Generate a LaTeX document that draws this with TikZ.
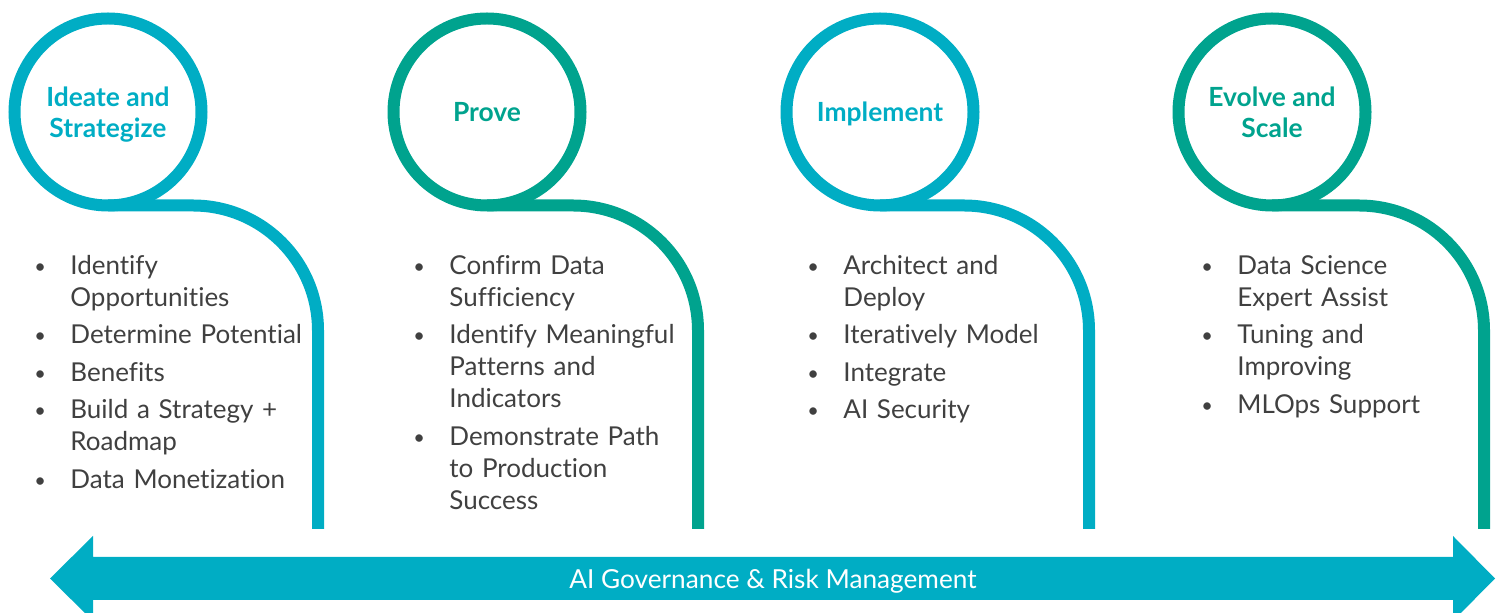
\documentclass[tikz,border=0pt]{standalone}
\usepackage{fontspec}
\setmainfont{Lato}[Ligatures=NoCommon]
\usepackage{enumitem}
\setlist[itemize]{label=\raisebox{0.6pt}{\fontsize{10}{10}\selectfont\textbullet},
  leftmargin=18pt,labelsep=0pt,labelwidth=18pt,itemindent=0pt,align=left,
  topsep=0pt,partopsep=0pt,parsep=0pt,itemsep=2.75pt}

\definecolor{stageblue}{RGB}{0,173,196}
\definecolor{stagegreen}{RGB}{0,163,142}
\definecolor{itemgray}{RGB}{64,64,64}

\begin{document}
\begin{tikzpicture}[x=0.5pt,y=-0.5pt,
    ring/.style={circle,draw,line width=6pt,minimum size=93.5pt,inner sep=0pt,outer sep=0pt,
      align=center,text depth=0pt,font=\fontsize{13.2}{15.5}\selectfont\bfseries},
    tail/.style={line width=6pt,rounded corners=62.5pt},
    items/.style={anchor=north west,inner sep=0pt,text width=150pt,text=itemgray,
      font=\fontsize{13}{16}\selectfont}]

  \useasboundingbox (0,0) rectangle (1500,613);
  \clip (0,0) rectangle (1500,613);

  % stage circles
  \node[ring,draw=stageblue,text=stageblue] (ideate) at (108,112) {Ideate and\\Strategize};
  \node[ring,draw=stagegreen,text=stagegreen] (prove) at (487,112) {Prove};
  \node[ring,draw=stageblue,text=stageblue] (implement) at (880,112) {Implement};
  \node[ring,draw=stagegreen,text=stagegreen] (evolve) at (1272,112) {Evolve and\\Scale};

  % tails
  \coordinate (ideate end) at (318,529);
  \coordinate (prove end) at (698,529);
  \coordinate (implement end) at (1089,529);
  \coordinate (evolve end) at (1484,529);
  \draw[tail,stageblue] (ideate.south) -| (ideate end);
  \draw[tail,stagegreen] (prove.south) -| (prove end);
  \draw[tail,stageblue] (implement.south) -| (implement end);
  \draw[tail,stagegreen] (evolve.south) -| (evolve end);

  % bullet lists
  \node[items] (ideate items) at (34,242) {\begin{itemize}
      \item Identify\newline Opportunities
      \item Determine Potential
      \item Benefits
      \item Build a Strategy +\newline Roadmap
      \item Data Monetization
    \end{itemize}};
  \node[items] (prove items) at (413,242) {\begin{itemize}
      \item Confirm Data\newline Sufficiency
      \item Identify Meaningful\newline Patterns and\newline Indicators
      \item Demonstrate Path\newline to Production\newline Success
    \end{itemize}};
  \node[items] (implement items) at (807,242) {\begin{itemize}
      \item Architect and\newline Deploy
      \item Iteratively Model
      \item Integrate
      \item AI Security
    \end{itemize}};
  \node[items] (evolve items) at (1201,242) {\begin{itemize}
      \item Data Science\newline Expert Assist
      \item Tuning and\newline Improving
      \item MLOps Support
    \end{itemize}};

  % governance arrow
  \fill[stageblue] (50,578.5) -- (93,536) -- (93,557) -- (1453,557) -- (1453,536)
    -- (1495,578.5) -- (1453,621) -- (1453,600) -- (93,600) -- (93,621) -- cycle;
  \node[anchor=base,text=white,font=\fontsize{13.1}{15}\selectfont] (governance)
    at (773,589) {AI Governance \& Risk Management};
\end{tikzpicture}
\end{document}
